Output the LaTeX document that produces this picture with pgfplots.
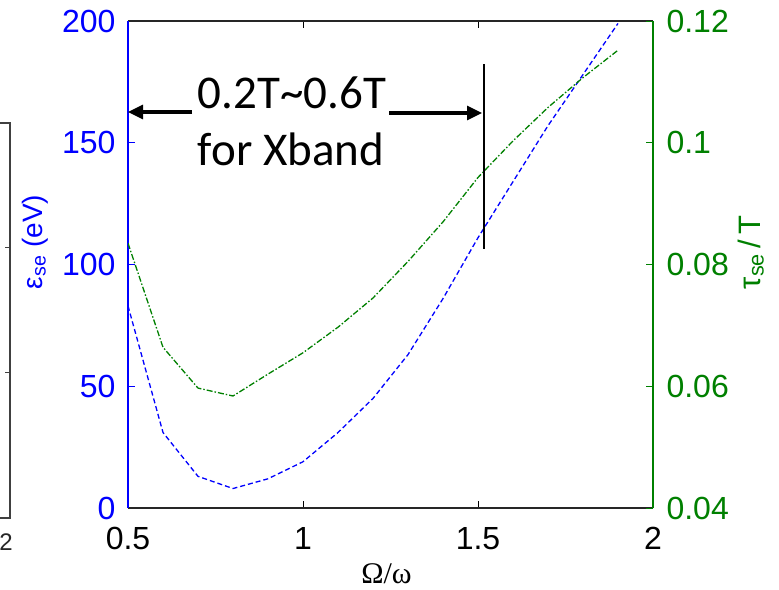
\documentclass[border=0pt]{standalone}
\usepackage{pgfplots}
\pgfplotsset{compat=1.18}
\usetikzlibrary{arrows.meta}
\usepackage{fontspec}
\setmainfont{Liberation Sans}
\newfontfamily\seriffont{Liberation Serif}
\newfontfamily\calfont{Carlito}
\definecolor{mblue}{rgb}{0,0,1}
\definecolor{mgreen}{rgb}{0,0.5,0}
\begin{document}
\begin{tikzpicture}
\useasboundingbox (0pt,0pt) rectangle (779pt,-589pt);
% left partial frame of neighbouring panel
\draw[black!75, line width=1.3pt] (0pt,-123pt) -- (10pt,-123pt) -- (10pt,-518pt) -- (0pt,-518pt);
\draw[black!75, line width=1pt] (10pt,-247pt) -- (5pt,-247pt) (10pt,-372pt) -- (5pt,-372pt);
\node[font=\fontsize{24}{28}\selectfont, text=black!85, inner sep=0pt, anchor=base east] at (13pt,-550pt) {2};
\begin{axis}[
  at={(128pt,-508pt)}, anchor=south west,
  scale only axis, width=525pt, height=487pt,
  xmin=0.5, xmax=2, ymin=0, ymax=200,
  separate axis lines,
  axis line style={line width=1.2pt},
  x axis line style={black!85},
  y axis line style={mblue},
  xtick={0.5,1,1.5,2},
  xticklabels={0.5,1,1.5,2},
  ytick={0,50,100,150,200},
  ytick pos=left,
  xtick pos=both,
  tick align=inside,
  major tick length=7pt,
  xtick style={black, line width=1pt},
  ytick style={mblue, line width=1pt},
  /pgf/number format/assume math mode=true,
  tick label style={font=\fontsize{32}{36}\selectfont},
  yticklabel style={text=mblue, xshift=-9pt},
  xticklabel style={text=black, yshift=-16pt},
  xlabel={\seriffont Ω/ω},
  xlabel style={font=\fontsize{30}{34}\selectfont, at={(axis description cs:0.4924,-0.156)}, anchor=base},
  ylabel={ε\textsubscript{se} (eV)},
  ylabel style={font=\fontsize{28}{32}\selectfont, text=mblue, at={(axis description cs:-0.1638,0.546)}, anchor=base},
]
\addplot[mblue, line width=1.3pt, dash pattern=on 5pt off 3pt] coordinates {
(0.5,83) (0.6,31) (0.7,13) (0.8,8) (0.9,12) (1.0,19) (1.1,31) (1.2,45) (1.3,63) (1.4,86) (1.5,111) (1.6,134) (1.7,157) (1.8,178) (1.9,199)};
\end{axis}
\begin{axis}[
  at={(128pt,-508pt)}, anchor=south west,
  scale only axis, width=525pt, height=487pt,
  xmin=0.5, xmax=2, ymin=0.04, ymax=0.12,
  axis x line=none,
  axis y line*=right,
  axis line style={line width=1.2pt, mgreen, -},
  ytick={0.04,0.06,0.08,0.1,0.12},
  yticklabels={0.04,0.06,0.08,0.1,0.12},
  tick align=inside,
  major tick length=7pt,
  ytick style={mgreen, line width=1pt},
  /pgf/number format/assume math mode=true,
  tick label style={font=\fontsize{32}{36}\selectfont},
  yticklabel style={text=mgreen, xshift=10pt},
  ylabel={τ\textsubscript{se}\,/\,T},
  ylabel style={font=\fontsize{31}{36}\selectfont, text=mgreen, at={(axis description cs:1.2038,0.525)}, anchor=base},
]
\addplot[mgreen, line width=1.3pt, dash pattern=on 6pt off 2pt on 1.5pt off 2pt] coordinates {
(0.5,0.0835) (0.6,0.0664) (0.7,0.0597) (0.8,0.0584) (0.9,0.0620) (1.0,0.0655) (1.1,0.0697) (1.2,0.0745) (1.3,0.0805) (1.4,0.0870) (1.5,0.0943) (1.6,0.1003) (1.7,0.1058) (1.8,0.1107) (1.9,0.1152)};
\end{axis}
% annotation
\draw[line width=3.2pt, -{Triangle[length=15pt,width=14pt]}] (192pt,-112pt) -- (128pt,-112pt);
\draw[line width=3.2pt, -{Triangle[length=15pt,width=14pt]}] (389pt,-113pt) -- (482pt,-113pt);
\draw[line width=2pt] (484pt,-64pt) -- (484pt,-249pt);
\node[font=\calfont\fontsize{47}{56}\selectfont, anchor=base, inner sep=0pt] at (292pt,-108pt) {0.2T\textasciitilde 0.6T};
\node[font=\calfont\fontsize{47}{56}\selectfont, anchor=base, inner sep=0pt] at (291pt,-165pt) {for Xband};
\end{tikzpicture}
\end{document}
